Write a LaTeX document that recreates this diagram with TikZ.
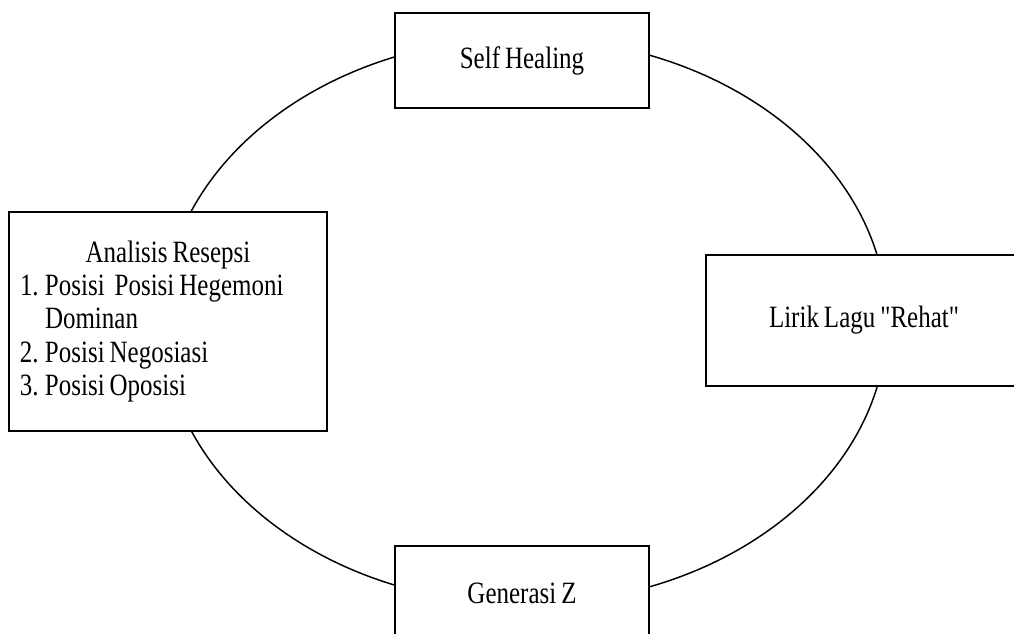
\documentclass[tikz,border=0pt]{standalone}
\usepackage{fontspec}
\setmainfont{Liberation Serif}[FakeStretch=0.806, WordSpace=0.8, Ligatures=TeXOff]
\newcommand\numitem[1]{\makebox[18.75pt][l]{#1}}
\tikzset{
   box/.style={draw, line width=1.5pt, fill=white, inner sep=0pt,
      font=\fontsize{23.25}{25.1}\selectfont},
   ring/.style={draw, line width=1.1pt}
}
\begin{document}
\begin{tikzpicture}[x=0.75pt, y=-0.75pt]
   \useasboundingbox (0,0) rectangle (1014,633);
   \clip (0,0) rectangle (1014,633);
   \draw[ring] (525,321) ellipse [x radius=362, y radius=283];
   \def \Boxes {
      self/522/60.5/254/95/{Self Healing},
      lirik/864/320.5/316/131/{Lirik Lagu "Rehat"},
      genz/522/593.5/254/95/{Generasi Z}}
   \foreach \n / \x / \y / \w / \h / \t in \Boxes {
      \node[box, minimum width=\w*0.75pt, minimum height=\h*0.75pt] (\n) at (\x, \y) {\t};
   }
   \node[box, minimum width=318*0.75pt, minimum height=219*0.75pt,
      text width=296*0.75pt, align=flush left] (analisis) at (168, 321.5) {%
      \makebox[\linewidth]{Analisis Resepsi}\\
      \numitem{1.}Posisi\ \ Posisi Hegemoni\\
      \numitem{}Dominan\\
      \numitem{2.}Posisi Negosiasi\\
      \numitem{3.}Posisi Oposisi};
\end{tikzpicture}
\end{document}
